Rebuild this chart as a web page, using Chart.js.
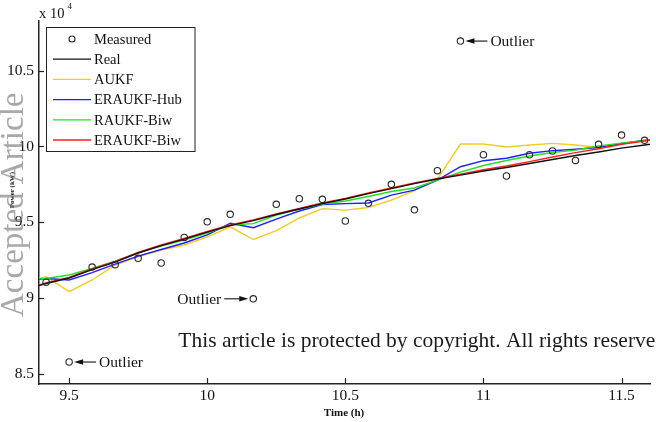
<!DOCTYPE html>
<html>
<head>
<meta charset="utf-8">
<script src="https://cdn.jsdelivr.net/npm/chart.js@4/dist/chart.umd.min.js"></script>
<style>
  html, body { margin: 0; padding: 0; background: #ffffff; }
  #wrap { width: 656px; height: 422px; position: relative; }
</style>
</head>
<body>
<div id="wrap"><canvas id="chart" width="656" height="422"></canvas></div>
<script>
// Sampling instants (hours), every 5 minutes
const measuredTimes = [9.4167, 9.5, 9.5833, 9.6667, 9.75, 9.8333, 9.9167, 10.0, 10.0833,
  10.1667, 10.25, 10.3333, 10.4167, 10.5, 10.5833, 10.6667, 10.75, 10.8333, 10.9167,
  11.0, 11.0833, 11.1667, 11.25, 11.3333, 11.4167, 11.5, 11.5833];
const estimateTimes = [9.3333, 9.4167, 9.5, 9.5833, 9.6667, 9.75, 9.8333, 9.9167, 10.0,
  10.0833, 10.1667, 10.25, 10.3333, 10.4167, 10.5, 10.5833, 10.6667, 10.75, 10.8333,
  10.9167, 11.0, 11.0833, 11.1667, 11.25, 11.3333, 11.4167, 11.5, 11.5833, 11.6667];

// Values in units of 10^4
const measured = [9.104, 8.578, 9.204, 9.220, 9.262, 9.231, 9.400, 9.503, 9.552, 8.995,
  9.618, 9.655, 9.651, 9.508, 9.625, 9.750, 9.582, 9.840, 10.695, 9.945, 9.805, 9.945,
  9.970, 9.908, 10.014, 10.075, 10.040];
const realValues = [9.050, 9.096, 9.132, 9.188, 9.237, 9.297, 9.346, 9.389, 9.435, 9.478,
  9.511, 9.551, 9.587, 9.623, 9.653, 9.689, 9.722, 9.755, 9.785, 9.811, 9.838, 9.861,
  9.887, 9.914, 9.940, 9.963, 9.989, 10.009, 10.030];
const aukf = [9.106, 9.141, 9.042, 9.119, 9.218, 9.274, 9.317, 9.350, 9.404, 9.470, 9.386,
  9.445, 9.528, 9.590, 9.580, 9.597, 9.646, 9.708, 9.785, 10.016, 10.016, 9.996, 10.009,
  10.020, 10.009, 9.993, 10.016, 10.042, 10.060];
const eraukfHub = [9.112, 9.129, 9.119, 9.168, 9.224, 9.277, 9.320, 9.363, 9.416, 9.493,
  9.464, 9.521, 9.574, 9.617, 9.623, 9.627, 9.679, 9.712, 9.778, 9.866, 9.906, 9.922,
  9.955, 9.972, 9.981, 9.993, 10.019, 10.039, 10.050];
const raukfBiw = [9.125, 9.129, 9.152, 9.195, 9.244, 9.300, 9.343, 9.383, 9.429, 9.482,
  9.491, 9.547, 9.587, 9.620, 9.640, 9.670, 9.703, 9.726, 9.778, 9.831, 9.874, 9.907,
  9.937, 9.960, 9.976, 10.003, 10.022, 10.039, 10.055];
const eraukfBiw = [9.054, 9.100, 9.136, 9.192, 9.241, 9.301, 9.350, 9.393, 9.439, 9.482,
  9.515, 9.555, 9.591, 9.627, 9.657, 9.693, 9.726, 9.759, 9.789, 9.817, 9.846, 9.871,
  9.900, 9.930, 9.959, 9.985, 10.014, 10.036, 10.059];

// Indices (into measured) of the flagged outliers and where their label sits
const outliers = [
  { index: 1, side: 'right' },
  { index: 9, side: 'left' },
  { index: 18, side: 'right' }
];

const xTickValues = [9.5, 10, 10.5, 11, 11.5];
const xTickLabels = ['9.5', '10', '10.5', '11', '11.5'];
const yTickValues = [8.5, 9, 9.5, 10, 10.5];
const yTickLabels = ['8.5', '9', '9.5', '10', '10.5'];

const SERIF = '"Liberation Serif", "Times New Roman", serif';

const toPoints = (times, vals) => vals.map((v, i) => ({ x: times[i], y: v }));

function lineSet(label, times, vals, color, order) {
  return {
    label, data: toPoints(times, vals), borderColor: color, backgroundColor: color,
    borderWidth: 1.4, pointRadius: 0, tension: 0, fill: false, order
  };
}

const datasets = [
  {
    label: 'Measured', data: toPoints(measuredTimes, measured), showLine: false,
    pointStyle: 'circle', pointRadius: 3.2, pointBorderWidth: 1.1,
    pointBorderColor: '#2a2a2a', pointBackgroundColor: 'rgba(0,0,0,0)',
    borderColor: '#2a2a2a', backgroundColor: 'rgba(0,0,0,0)', order: 0, isMarker: true
  },
  lineSet('Real', estimateTimes, realValues, '#111111', 1),
  lineSet('AUKF', estimateTimes, aukf, '#f2cc22', 5),
  lineSet('ERAUKF-Hub', estimateTimes, eraukfHub, '#1f1fff', 4),
  lineSet('RAUKF-Biw', estimateTimes, raukfBiw, '#22e022', 3),
  lineSet('ERAUKF-Biw', estimateTimes, eraukfBiw, '#ff1f1f', 2)
];

function arrow(ctx, x1, y, x2) {
  // shaft from x1 to x2, filled head at x2
  const dir = Math.sign(x2 - x1);
  ctx.beginPath();
  ctx.moveTo(x1, y);
  ctx.lineTo(x2 - dir * 6, y);
  ctx.stroke();
  ctx.beginPath();
  ctx.moveTo(x2, y);
  ctx.lineTo(x2 - dir * 9, y - 2.8);
  ctx.lineTo(x2 - dir * 9, y + 2.8);
  ctx.closePath();
  ctx.fill();
}

const decor = {
  id: 'decor',
  beforeDraw(chart) {
    const { ctx, width, height } = chart;
    ctx.save();
    ctx.fillStyle = '#ffffff';
    ctx.fillRect(0, 0, width, height);
    ctx.restore();
  },
  afterDraw(chart) {
    const { ctx, chartArea: a, scales: { x, y } } = chart;
    ctx.save();

    // inward tick marks
    ctx.strokeStyle = '#222';
    ctx.lineWidth = 1.2;
    x.ticks.forEach(t => {
      const px = Math.round(x.getPixelForValue(t.value)) + 0.5;
      ctx.beginPath(); ctx.moveTo(px, a.bottom); ctx.lineTo(px, a.bottom - 6); ctx.stroke();
    });
    y.ticks.forEach(t => {
      const py = Math.round(y.getPixelForValue(t.value)) + 0.5;
      ctx.beginPath(); ctx.moveTo(a.left, py); ctx.lineTo(a.left + 5, py); ctx.stroke();
    });

    // exponent note above the y axis
    ctx.fillStyle = '#111';
    ctx.textBaseline = 'alphabetic';
    ctx.textAlign = 'left';
    ctx.font = '14.5px ' + SERIF;
    ctx.fillText('x 10', a.left, 18);
    ctx.font = '9px ' + SERIF;
    ctx.fillText('4', a.left + 28.5, 9);

    // legend box
    const lx = 46.5, ly = 27.5, lw = 148.5, lh = 124;
    ctx.fillStyle = '#ffffff';
    ctx.fillRect(lx, ly, lw, lh);
    ctx.strokeStyle = '#222';
    ctx.lineWidth = 1;
    ctx.strokeRect(lx, ly, lw, lh);
    ctx.font = '14.5px ' + SERIF;
    ctx.textBaseline = 'middle';
    chart.data.datasets.forEach((ds, i) => {
      const ry = 39 + i * 20.2;
      if (ds.isMarker) {
        ctx.strokeStyle = ds.pointBorderColor;
        ctx.lineWidth = 1.1;
        ctx.beginPath(); ctx.arc(72, ry, 3, 0, Math.PI * 2); ctx.stroke();
      } else {
        ctx.strokeStyle = ds.borderColor;
        ctx.lineWidth = 1.3;
        ctx.beginPath(); ctx.moveTo(53, ry); ctx.lineTo(91, ry); ctx.stroke();
      }
      ctx.fillStyle = '#111';
      ctx.fillText(ds.label, 94, ry + 1);
    });

    // outlier annotations
    ctx.font = '15.5px ' + SERIF;
    ctx.fillStyle = '#111';
    ctx.strokeStyle = '#111';
    ctx.lineWidth = 1.1;
    outliers.forEach(o => {
      const px = x.getPixelForValue(measuredTimes[o.index]);
      const py = y.getPixelForValue(measured[o.index]);
      if (o.side === 'right') {
        arrow(ctx, px + 27, py, px + 5);
        ctx.textAlign = 'left';
        ctx.fillText('Outlier', px + 30, py + 1);
      } else {
        arrow(ctx, px - 29, py, px - 5);
        ctx.textAlign = 'right';
        ctx.fillText('Outlier', px - 32, py + 1);
      }
    });

    // x axis title
    ctx.textAlign = 'center';
    ctx.textBaseline = 'middle';
    ctx.font = 'bold 11px ' + SERIF;
    ctx.fillText('Time (h)', 344, 413);

    // y axis title
    ctx.save();
    ctx.translate(12, 190);
    ctx.rotate(-Math.PI / 2);
    ctx.font = 'bold 7px ' + SERIF;
    ctx.fillText('Power (kW)', 0, 0);
    ctx.restore();

    // publisher notices
    ctx.textAlign = 'left';
    ctx.textBaseline = 'alphabetic';
    ctx.font = '21.5px ' + SERIF;
    ctx.fillStyle = '#1a1a1a';
    ctx.fillText('This article is protected by copyright. All rights reserved', 178.3, 347);

    ctx.save();
    ctx.translate(22.5, 317);
    ctx.rotate(-Math.PI / 2);
    ctx.font = '33px ' + SERIF;
    ctx.fillStyle = 'rgba(110,110,110,0.6)';
    ctx.fillText('Accepted Article', 0, 0);
    ctx.restore();

    ctx.restore();
  }
};

new Chart(document.getElementById('chart').getContext('2d'), {
  type: 'line',
  data: { datasets },
  options: {
    responsive: false,
    animation: false,
    devicePixelRatio: 1,
    layout: { padding: { top: 20.6, right: 6, left: 0, bottom: 0 } },
    plugins: { legend: { display: false }, tooltip: { enabled: false } },
    scales: {
      x: {
        type: 'linear', min: 9.391, max: 11.603,
        afterFit: s => { s.height = 38; },
        afterBuildTicks: s => { s.ticks = xTickValues.map(v => ({ value: v })); },
        ticks: {
          autoSkip: false, maxRotation: 0, padding: 3, color: '#111',
          font: { family: SERIF, size: 15.5 },
          callback: (v, i) => xTickLabels[i]
        },
        grid: { display: false, drawTicks: false },
        border: { display: true, color: '#222', width: 1.5 }
      },
      y: {
        type: 'linear', min: 8.433, max: 10.83,
        afterFit: s => { s.width = 39; },
        afterBuildTicks: s => { s.ticks = yTickValues.map(v => ({ value: v })); },
        ticks: {
          autoSkip: false, padding: 5, color: '#111',
          font: { family: SERIF, size: 15.5 },
          callback: (v, i) => yTickLabels[i]
        },
        grid: { display: false, drawTicks: false },
        border: { display: true, color: '#222', width: 1.5 }
      }
    }
  },
  plugins: [decor]
});
</script>
</body>
</html>
